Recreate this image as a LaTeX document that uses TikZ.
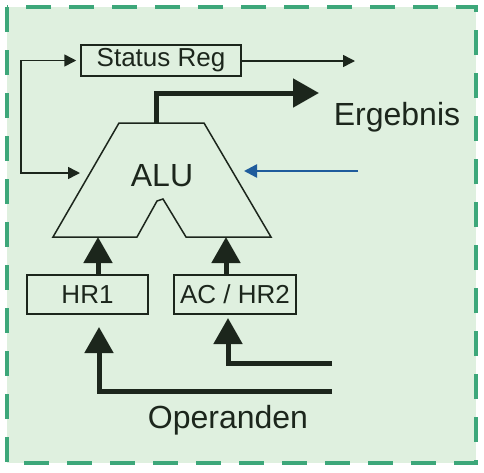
\documentclass[tikz,border=0pt]{standalone}
\usepackage{fontspec}
\setmainfont{Liberation Sans}
\usetikzlibrary{arrows.meta}
\definecolor{bgfill}{HTML}{DFF0DF}
\definecolor{dashgreen}{HTML}{3DA77A}
\definecolor{ink}{HTML}{1C261C}
\definecolor{bluearr}{HTML}{1F5C9C}
\begin{document}
\begin{tikzpicture}[x=1pt,y=-1pt,
  reg/.style={draw=ink, line width=1.5pt, inner sep=0pt, minimum height=#1, text=ink,
    font=\fontsize{26}{30}\selectfont},
  bigtext/.style={text=ink, inner sep=0pt, font=\fontsize{32}{38}\selectfont},
  thinarrow/.style={draw=ink, line width=1.5pt, -{Triangle[length=12pt,width=12pt]}},
  thickarrow/.style={draw=ink, line width=5pt, miter limit=10, -{Triangle[length=26pt,width=28pt]}},
  bluearrow/.style={draw=bluearr, line width=2.5pt, -{Triangle[length=13pt,width=13pt]}},
]
\useasboundingbox (0,0) rectangle (484,472);
\draw[dashgreen, fill=bgfill, line width=4pt, dash pattern=on 25pt off 18pt] (7,7) rectangle (476,463);

% registers
\node[reg=31pt, minimum width=160pt] (sr) at (161,60.5) {Status Reg};
\node[reg=39pt, minimum width=121pt] (hr1) at (87.5,294.5) {HR1};
\node[reg=39pt, minimum width=122pt] (hr2) at (235,294.5) {AC / HR2};

% ALU
\coordinate (alutl) at (119,123);
\coordinate (alutr) at (204,123);
\coordinate (alubr) at (271,237);
\coordinate (alubl) at (53,237);
\draw[ink, line width=1.5pt, line join=miter] (alutl) -- (alutr) -- (alubr) -- (186,237) -- (163,199) -- (157,201) -- (137,237) -- (alubl) -- cycle;
\node[bigtext] (alu) at (162,176) {ALU};
\coordinate (aluout) at (156,123);
\coordinate (aluinl) at (98,237);
\coordinate (aluinr) at (226,237);
\coordinate (aluleft) at (80,173);
\coordinate (aluright) at (244,171);

% texts
\node[bigtext] (erg) at (397,117) {Ergebnis};
\node[bigtext] (ops) at (228,420) {Operanden};

% free ends
\coordinate (srout) at (355,61);
\coordinate (ergtip) at (319,93);
\coordinate (bluein) at (358,171);
\coordinate (op1) at (332,391);
\coordinate (op2) at (332,363);
\coordinate (fb) at (21,173);

% connectors
\draw[thinarrow] (sr.east |- srout) -- (srout);
\draw[draw=ink, line width=1.5pt, {Triangle[length=12pt,width=12pt]}-{Triangle[length=12pt,width=12pt]}, shorten <=4pt] (sr.west) -| (fb) -- (aluleft);
\draw[bluearrow] (bluein) -- (aluright);
\draw[thickarrow] (aluout) |- (ergtip);
\draw[thickarrow] (hr1.north -| aluinl) -- (aluinl);
\draw[thickarrow] (hr2.north -| aluinr) -- (aluinr);
\draw[thickarrow] (op1) -| (99,327);
\draw[thickarrow] (op2) -| (228,318);
\end{tikzpicture}
\end{document}
